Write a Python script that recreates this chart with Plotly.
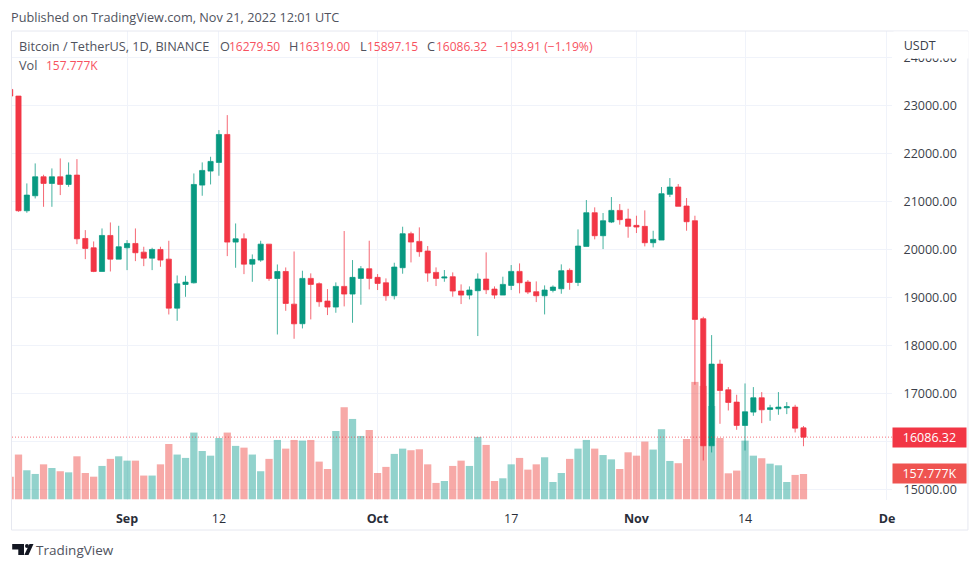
import pandas as pd
import plotly.graph_objects as go

# daily candles, 18 Aug - 21 Nov 2022
dates = pd.date_range("2022-08-18", "2022-11-21")
opens = [23333, 23195, 20804, 21117, 21513, 21374, 21513, 21353, 21548, 20227, 20033, 19539, 20290, 19796, 20033, 20123,
         19942, 19817, 19998, 19796, 18775, 19268, 19303, 21339, 21631, 21812, 22395, 20151, 20220, 19692, 19776, 20109,
         19393, 19539, 18858, 18450, 19395, 19284, 18922, 18797, 19228, 19068, 19395, 19596, 19416, 19304, 19033, 19617,
         20326, 20166, 19965, 19520, 19402, 19430, 19131, 19047, 19138, 19381, 19172, 19047, 19249, 19541, 19318, 19117,
         19033, 19145, 19179, 19562, 19311, 20062, 20764, 20284, 20569, 20812, 20632, 20500, 20479, 20138, 20194, 21146,
         21299, 20903, 20597, 18554, 15906, 17608, 17073, 16816, 16330, 16608, 16907, 16663, 16677, 16698, 16712, 16279.50]
highs = [23400, 23195, 21374, 21791, 21555, 21687, 21895, 21812, 21881, 20401, 20165, 20436, 20561, 20491, 20193, 20436,
         20054, 20033, 20054, 20179, 19456, 19449, 21582, 21812, 21930, 22486, 22798, 20540, 20332, 19894, 20179, 20109,
         19685, 19623, 19956, 19555, 19499, 19311, 19172, 19311, 20382, 19777, 19652, 20180, 19485, 19395, 19721, 20472,
         20368, 20458, 20069, 19624, 19569, 19520, 19270, 19228, 19499, 19937, 19228, 19430, 19673, 19707, 19360, 19332,
         19249, 19249, 19687, 19603, 20416, 21028, 20875, 20757, 21090, 20944, 20847, 20701, 20812, 20388, 21299, 21486,
         21361, 21070, 20701, 18595, 18213, 17699, 17129, 16969, 17205, 17129, 17025, 16760, 17025, 16816, 16760, 16319.00]
lows = [23167, 20783, 20762, 21061, 20887, 20887, 21131, 21304, 20109, 19796, 19525, 19539, 19539, 19796, 19567, 19755,
        19650, 19567, 19637, 18643, 18511, 19011, 19289, 21117, 21353, 21534, 19859, 19616, 19484, 19324, 19741, 19345,
        18226, 18719, 18136, 18352, 18540, 18804, 18630, 18679, 18811, 18470, 18846, 19165, 19152, 18929, 18957, 19492,
        19728, 19846, 19325, 19235, 19325, 19013, 18860, 18957, 18193, 19068, 18971, 19047, 19152, 19082, 19068, 18901,
        18644, 19103, 19075, 19158, 19235, 20062, 20208, 20006, 20548, 20514, 20242, 20340, 20062, 20041, 20194, 21090,
        20896, 20388, 17178, 15600, 15767, 16364, 16642, 16239, 15808, 16531, 16378, 16427, 16552, 16566, 16184, 15897.15]
closes = [23195, 20804, 21131, 21513, 21374, 21513, 21353, 21548, 20220, 20019, 19539, 20290, 19796, 20054, 20123, 19929,
          19817, 19998, 19776, 18775, 19282, 19317, 21353, 21645, 21833, 22395, 20151, 20220, 19692, 19790, 20109, 19393,
          19539, 18872, 18448, 19395, 19270, 18908, 18797, 19228, 19068, 19416, 19596, 19395, 19290, 19033, 19631, 20326,
          20152, 19951, 19506, 19395, 19423, 19131, 19047, 19152, 19381, 19158, 19047, 19270, 19541, 19304, 19110, 19033,
          19152, 19214, 19555, 19311, 20069, 20764, 20284, 20597, 20812, 20618, 20479, 20465, 20138, 20208, 21160, 21299,
          20896, 20576, 18540, 15906, 17608, 17059, 16809, 16330, 16615, 16907, 16656, 16698, 16712, 16719, 16274, 16086.32]
# volume in thousands
volumes = [141, 279, 181, 158, 218, 195, 175, 168, 268, 164, 141, 208, 252, 268, 241, 241,
           148, 148, 218, 345, 279, 258, 416, 301, 272, 382, 416, 333, 322, 279, 175, 252,
           370, 316, 370, 366, 370, 235, 189, 426, 574, 501, 395, 432, 164, 202, 283, 316,
           306, 312, 218, 102, 114, 208, 241, 208, 389, 339, 114, 131, 218, 258, 185, 218,
           262, 108, 164, 252, 316, 370, 316, 276, 249, 189, 293, 272, 360, 310, 437, 239,
           225, 376, 732, 707, 582, 382, 162, 179, 366, 272, 256, 222, 212, 108, 152, 157.777]

price_ticks = [15000, 16000, 17000, 18000, 19000, 20000, 21000, 22000, 23000, 24000]
# 16000 has a grid line but its label is hidden behind the last price tag
price_labels = ["15000.00", "", "17000.00", "18000.00", "19000.00", "20000.00", "21000.00", "22000.00", "23000.00",
                "24000.00"]
time_ticks = ["2022-09-01", "2022-09-12", "2022-10-01", "2022-10-17", "2022-11-01", "2022-11-14", "2022-12-01"]
time_labels = ["<b>Sep</b>", "12", "<b>Oct</b>", "17", "<b>Nov</b>", "14", "<b>De</b>"]

FONT = "Open Sans"
TEXT = "#50535e"
RED = "#f23645"
GREEN = "#089981"
# the page body adds 8px on the left and top
PAGE = 8
# plot area in window pixels
LEFT, RIGHT, TOP, BOTTOM = 11.5, 892.0, 31.0, 500.0


def px_x(x):
    return (x - LEFT) / (RIGHT - LEFT)


def px_y(y):
    return (BOTTOM - y) / (BOTTOM - TOP)


def add_text(fig, x, y, text, color=TEXT, size=12.7):
    # annotations sit about 2px right of their anchor
    fig.add_annotation(x=px_x(x - 2), y=px_y(y), xref="paper", yref="paper", text=text, showarrow=False,
                       xanchor="left", yanchor="middle", align="left", borderpad=0,
                       font=dict(family=FONT, size=size, color=color))


vol_colors = ["rgba(38,166,154,0.5)" if c >= o else "rgba(239,83,80,0.5)" for o, c in zip(opens, closes)]

fig = go.Figure()
fig.add_trace(go.Bar(x=dates, y=volumes, marker=dict(color=vol_colors, line_width=0), yaxis="y"))
fig.add_trace(go.Candlestick(x=dates, open=opens, high=highs, low=lows, close=closes, yaxis="y2",
                             increasing=dict(line=dict(color="rgba(8,153,129,0.75)", width=1), fillcolor=GREEN),
                             decreasing=dict(line=dict(color="rgba(242,54,69,0.75)", width=1), fillcolor=RED),
                             whiskerwidth=0))

fig.update_layout(
    width=980 - PAGE, height=569 - PAGE, autosize=False, showlegend=False, paper_bgcolor="white", plot_bgcolor="white",
    margin=dict(l=LEFT - PAGE, r=980 - RIGHT, t=TOP - PAGE, b=569 - BOTTOM),
    bargap=0.13, boxgap=0.12, font=dict(family=FONT, size=12, color=TEXT),
    xaxis=dict(type="date", range=["2022-08-18 05:20", "2022-12-01 14:24"], rangeslider_visible=False,
               tickvals=time_ticks, ticktext=time_labels, tickangle=0, showgrid=True, gridcolor="#f0f3fa",
               zeroline=False, ticks="outside", ticklen=7, tickcolor="rgba(0,0,0,0)", showline=False,
               tickfont=dict(family=FONT, size=12.5, color="#2a2e39")),
    yaxis=dict(visible=False, range=[-4.4, 2920], showgrid=False, zeroline=False, fixedrange=True),
    yaxis2=dict(overlaying="y", side="right", range=[14776, 24551], tickvals=price_ticks, ticktext=price_labels,
                showgrid=True, gridcolor="#f0f3fa", zeroline=False, ticks="outside", ticklen=8,
                tickcolor="rgba(0,0,0,0)", showline=False, tickfont=dict(family=FONT, size=12.5, color="#3b3f4a")),
)

# frame around the chart
fig.add_shape(type="rect", xref="paper", yref="paper", x0=px_x(11), x1=px_x(968), y0=px_y(530), y1=px_y(31),
              line=dict(color="#e6e8f0", width=1))
# last price line
fig.add_shape(type="line", xref="paper", yref="y2", x0=0, x1=1, y0=closes[-1], y1=closes[-1],
              line=dict(color="rgba(242,54,69,0.7)", width=1, dash="1px,2px"), layer="above")

# header and legend
add_text(fig, 11, 17, "Published on TradingView.com, Nov 21, 2022 12:01 UTC")
add_text(fig, 20, 46, "Bitcoin / TetherUS, 1D, BINANCE")
for lx, vx, name, value in [(221, 230, "O", opens[-1]), (290, 300, "H", highs[-1]),
                            (361, 368, "L", lows[-1]), (428, 437, "C", closes[-1])]:
    add_text(fig, lx, 46, name)
    add_text(fig, vx, 46, f"{value:.2f}", "#f7525f", 12)
add_text(fig, 497, 46, "\u2212193.91 (\u22121.19%)", "#f7525f", 12.2)
add_text(fig, 20, 65, "Vol")
add_text(fig, 47, 65, f"{volumes[-1]:.3f}K", "#f7525f", 12)

# USDT box sits on top of the 24000 label
fig.add_annotation(x=px_x(893), y=px_y(31), xref="paper", yref="paper", text="&nbsp;&nbsp;&nbsp;USDT", showarrow=False,
                   xanchor="left", yanchor="top", width=74, height=26, bgcolor="white", align="left",
                   valign="middle", borderpad=0, font=dict(family=FONT, size=12.5, color="#3b3f4a"))

# price and volume labels on the scale
fig.add_annotation(x=1, y=closes[-1], xref="paper", yref="y2", text=f"{closes[-1]:.2f}", showarrow=False,
                   xanchor="left", yanchor="middle", width=73, height=19, bgcolor=RED, borderpad=0, align="center",
                   font=dict(family=FONT, size=12.5, color="white"))
fig.add_annotation(x=1, y=volumes[-1], xref="paper", yref="y", text=f"{volumes[-1]:.3f}K", showarrow=False,
                   xanchor="left", yanchor="middle", width=73, height=19, bgcolor="#ef5350", borderpad=0, align="center",
                   font=dict(family=FONT, size=12.5, color="white"))

# TradingView mark
LOGO = "#131722"
fig.add_shape(type="path", xref="paper", yref="paper", fillcolor=LOGO, line_width=0,
              path=f"M {px_x(11.7)} {px_y(544)} L {px_x(23.5)} {px_y(544)} L {px_x(23.5)} {px_y(555)} "
                   f"L {px_x(17.8)} {px_y(555)} L {px_x(17.8)} {px_y(549.5)} L {px_x(11.7)} {px_y(549.5)} Z")
fig.add_shape(type="circle", xref="paper", yref="paper", fillcolor=LOGO, line_width=0,
              x0=px_x(24.5), x1=px_x(28.5), y0=px_y(548), y1=px_y(544))
fig.add_shape(type="path", xref="paper", yref="paper", fillcolor=LOGO, line_width=0,
              path=f"M {px_x(29)} {px_y(544)} L {px_x(33)} {px_y(544)} L {px_x(28)} {px_y(555)} "
                   f"L {px_x(23.8)} {px_y(555)} Z")
add_text(fig, 37, 550, "TradingView", TEXT, 13.5)

fig.write_html("out.html")
